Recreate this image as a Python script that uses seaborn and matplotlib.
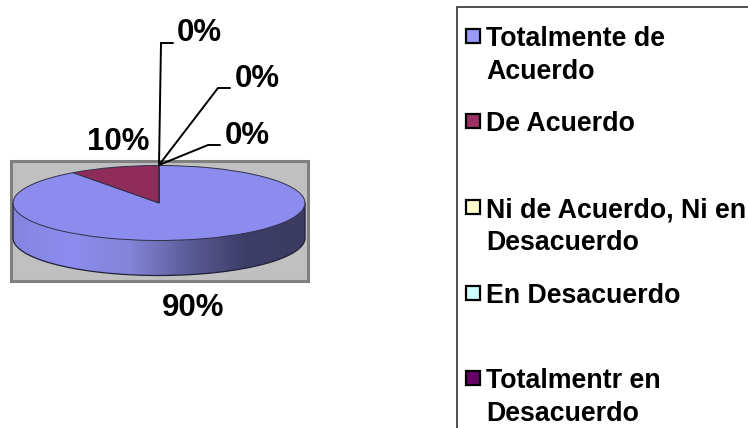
import numpy as np
import matplotlib.pyplot as plt
import matplotlib.patches as mpatches
from matplotlib.colors import LinearSegmentedColormap
import seaborn as sns

categories = ["Totalmente de\nAcuerdo", "De Acuerdo", "Ni de Acuerdo, Ni en\nDesacuerdo",
              "En Desacuerdo", "Totalmentr en\nDesacuerdo"]
percent = [90, 10, 0, 0, 0]
legend_colors = ["#9999FF", "#993366", "#FFFFCC", "#CCFFFF", "#660066"]
pie_colors = ["#8C8CEE", "#8F2C5A", "#FFFFCC", "#CCFFFF", "#660066"]

W, H = 748, 428
sns.set_theme(style="white")
plt.rcParams["font.family"] = ["Liberation Sans", "DejaVu Sans"]

fig = plt.figure(figsize=(W / 100, H / 100), dpi=100)

# everything but the pie is laid out in pixel coordinates
ax = fig.add_axes([0, 0, 1, 1])
ax.set_xlim(0, W)
ax.set_ylim(H, 0)
ax.axis("off")

# grey plot area
ax.add_patch(mpatches.Rectangle((11, 160.5), 297, 120, fc="#C0C0C0", ec="#808080", lw=2.2, zorder=1))

# side wall of the disc, gradient clipped to the outline
cx, cy, rx, ry, depth = 159, 203, 146, 37.5, 35
t = np.linspace(np.pi, 2 * np.pi, 200)
wall_x = cx + rx * np.cos(t)
wall_y = cy + depth - ry * np.sin(t)
wall = np.column_stack([np.r_[cx - rx, wall_x, cx + rx], np.r_[cy, wall_y, cy]])
wall_patch = mpatches.Polygon(wall, closed=True, fc="none", ec="#20203A", lw=0.9, zorder=3)
ax.add_patch(wall_patch)
cmap = LinearSegmentedColormap.from_list("wall", ["#8585E0", "#8C8CEE", "#8484D8", "#5C5C98", "#3C3C66", "#3C3C62"])
img = ax.imshow(np.linspace(0, 1, 256).reshape(1, -1), cmap=cmap, aspect="auto",
                extent=[cx - rx, cx + rx, cy + depth + ry, cy], zorder=2)
img.set_clip_path(wall_patch)
ax.set_xlim(0, W)
ax.set_ylim(H, 0)

# top of the disc
pie_ax = fig.add_axes([(cx - rx) / W, 1 - (cy + ry) / H, 2 * rx / W, 2 * ry / H], zorder=2)
pie_ax.pie(percent, colors=pie_colors, startangle=90, counterclock=False, radius=1,
           wedgeprops=dict(edgecolor="#30304A", linewidth=0.7))
pie_ax.set_aspect("auto")
pie_ax.set_xlim(-1, 1)
pie_ax.set_ylim(-1, 1)
pie_ax.patch.set_alpha(0)

# labels and leader lines, drawn above the pie
top = fig.add_axes([0, 0, 1, 1], zorder=3)
top.set_xlim(0, W)
top.set_ylim(H, 0)
top.axis("off")

label_pos = [(193, 308), (118, 142.5), (247, 135.5), (257, 78.5), (199, 33)]
for v, (x, y) in zip(percent, label_pos):
    top.text(x, y, f"{v}%", fontsize=22.5, fontweight="bold", color="black", ha="center", va="center")

leaders = [[(159, 165), (208, 145), (220, 145)],
           [(159, 165), (218, 88), (230, 88)],
           [(159, 165), (161, 43), (173, 43)]]
for pts in leaders:
    xs, ys = zip(*pts)
    top.plot(xs, ys, color="black", lw=1.4, solid_joinstyle="miter")

# legend box runs off the canvas on the right and at the bottom
top.add_patch(mpatches.Rectangle((457, 7), 400, 500, fc="white", ec="#303030", lw=1.2, zorder=1))

row_y = [36, 121, 207, 293, 378]
for name, col, y in zip(categories, legend_colors, row_y):
    top.add_patch(mpatches.Rectangle((466.5, y - 7), 14, 14, fc=col, ec="black", lw=1.6, zorder=2))
    top.text(486, y - 10, name, fontsize=19.3, fontweight="bold", color="black",
             va="top", ha="left", linespacing=1.36, zorder=3)

fig.savefig("out.png", dpi=100)
